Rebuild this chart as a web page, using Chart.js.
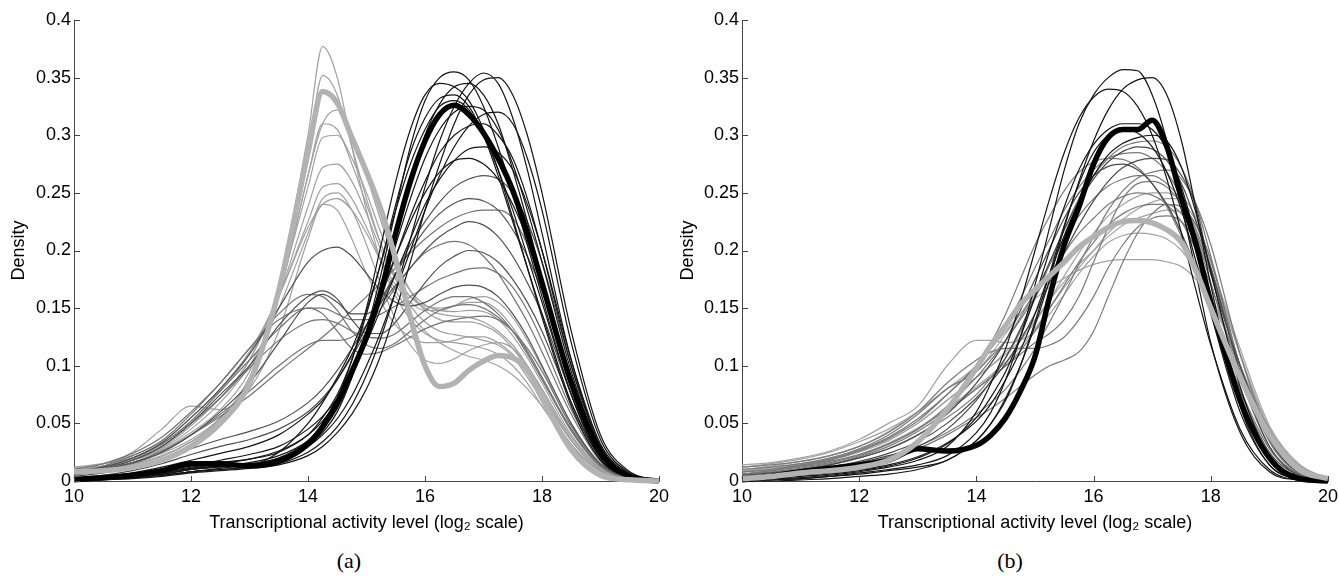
<!DOCTYPE html>
<html>
<head>
<meta charset="utf-8">
<script src="https://cdn.jsdelivr.net/npm/chart.js@4.4.1/dist/chart.umd.min.js"></script>
<style>
	body { margin: 0; background: #fff; width: 1339px; height: 576px; position: relative; overflow: hidden; }
	canvas { position: absolute; top: 0; }
	#chartA { left: 0; }
	#chartB { left: 669px; }
	.panelLabel { position: absolute; top: 550px; width: 80px; text-align: center; font: 22px "Liberation Serif", "Times New Roman", serif; line-height: 22px; color: #000; }
</style>
</head>
<body>
<canvas id="chartA" width="670" height="540"></canvas>
<canvas id="chartB" width="670" height="540"></canvas>
<div class="panelLabel" style="left:309px">(a)</div>
<div class="panelLabel" style="left:970px">(b)</div>
<script>
// x positions (log2 activity level) shared by every curve
const gridX = [10, 10.5, 11, 11.5, 12, 12.5, 13, 13.5,
	14, 14.25, 14.5, 14.75, 15, 15.25, 15.5, 15.75,
	16, 16.25, 16.5, 16.75, 17, 17.25, 17.5, 17.75,
	18, 18.5, 19, 19.5, 20];

const xTicks = [10, 12, 14, 16, 18, 20];
const yTicks = [0, 0.05, 0.1, 0.15, 0.2, 0.25, 0.3, 0.35, 0.4];

// ---- panel (a) ----
const aThickGray = [.008,.009,.012,.018,.030,.050,.085,.165, .285,.338,.328,.298,.268,.235,.192,.142, .100,.082,.085,.096,.104,.109,.107,.096, .072,.027,.005,.001,0];
const aThickBlack = [.001,.003,.005,.009,.015,.015,.013,.017, .032,.047,.068,.095,.125,.165,.215,.26, .295,.318,.326,.318,.302,.28,.252,.215, .172,.085,.025,.004,0];

const aBlack = [
	[.001,.002,.004,.007,.011,.013,.014,.018, .03,.042,.06,.09,.13,.18,.235,.29, .33,.35,.355,.348,.325,.29,.25,.205, .16,.075,.02,.003,0],
	[0,.001,.003,.005,.008,.010,.012,.015, .025,.034,.047,.066,.092,.125,.165,.21, .255,.295,.325,.345,.354,.345,.315,.27, .215,.105,.03,.005,0],
	[.001,.002,.004,.006,.010,.013,.015,.02, .032,.045,.063,.09,.125,.17,.215,.26, .3,.327,.342,.345,.335,.31,.27,.225, .175,.085,.024,.004,0],
	[0,.001,.002,.004,.007,.009,.011,.014, .022,.03,.042,.058,.08,.11,.148,.19, .235,.275,.31,.335,.348,.35,.335,.3, .25,.13,.04,.008,.001],
	[.002,.003,.005,.008,.012,.016,.019,.025, .04,.055,.075,.105,.145,.19,.24,.285, .315,.332,.335,.325,.3,.265,.225,.185, .145,.068,.02,.003,0],
	[.001,.002,.004,.006,.010,.013,.016,.022, .035,.048,.066,.092,.125,.165,.205,.245, .28,.305,.32,.325,.322,.305,.275,.235, .19,.095,.028,.005,0],
	[.001,.002,.004,.007,.011,.015,.019,.026, .04,.052,.07,.095,.125,.16,.195,.23, .26,.285,.3,.308,.31,.3,.28,.245, .2,.1,.03,.005,0],
	[.001,.002,.003,.005,.008,.01,.013,.025, .05,.068,.09,.115,.148,.19,.235,.275, .305,.325,.33,.322,.3,.27,.235,.195, .155,.075,.02,.003,0],
	[.001,.002,.004,.008,.013,.018,.023,.03, .045,.056,.072,.095,.12,.15,.18,.21, .24,.262,.278,.288,.29,.285,.27,.24, .2,.105,.032,.006,0],
	[.002,.004,.007,.012,.018,.024,.03,.04, .058,.07,.088,.11,.135,.165,.195,.225, .25,.268,.278,.28,.275,.262,.24,.21, .172,.09,.028,.005,0],
	[.001,.002,.003,.006,.01,.012,.014,.02, .035,.05,.072,.105,.15,.205,.26,.305, .335,.345,.342,.33,.305,.27,.228,.185, .142,.065,.018,.003,0],
	[.001,.002,.003,.005,.008,.011,.014,.019, .03,.04,.054,.074,.1,.13,.165,.2, .235,.265,.29,.308,.318,.32,.31,.28, .235,.12,.036,.007,.001]
];
const aDark = [
	[.003,.005,.009,.015,.023,.03,.036,.045, .06,.072,.088,.108,.13,.155,.18,.205, .225,.242,.255,.262,.265,.262,.25,.225, .19,.1,.03,.005,0],
	[.004,.007,.012,.019,.028,.036,.043,.052, .068,.08,.096,.115,.135,.158,.18,.2, .218,.232,.241,.245,.243,.235,.218,.195, .165,.088,.028,.005,0],
	[.006,.01,.016,.025,.04,.06,.085,.12, .155,.162,.155,.145,.145,.155,.17,.185, .2,.212,.22,.225,.222,.212,.195,.172, .145,.075,.022,.004,0],
	[.007,.011,.018,.03,.05,.075,.1,.135, .16,.165,.158,.14,.128,.128,.138,.155, .172,.186,.195,.2,.198,.19,.175,.155, .13,.068,.02,.004,0],
	[.008,.012,.02,.033,.055,.08,.11,.15, .19,.2,.203,.195,.18,.165,.155,.152, .155,.162,.168,.17,.168,.16,.145,.125, .1,.05,.015,.003,0]
];
const aMid = [
	[.008,.013,.022,.035,.058,.085,.115,.145, .162,.16,.148,.13,.118,.115,.12,.13, .14,.148,.152,.153,.15,.142,.13,.112, .09,.045,.013,.002,0],
	[.01,.015,.024,.038,.06,.085,.115,.14, .15,.145,.13,.115,.11,.112,.118,.125, .132,.137,.14,.142,.143,.14,.13,.115, .095,.048,.014,.002,0],
	[.006,.01,.018,.03,.05,.072,.098,.122, .138,.14,.137,.13,.125,.124,.128,.138, .148,.156,.16,.16,.155,.145,.13,.11, .088,.044,.013,.002,0],
	[.005,.009,.015,.025,.04,.058,.078,.1, .118,.122,.122,.125,.135,.15,.168,.185, .198,.205,.208,.205,.195,.18,.16,.138, .112,.058,.017,.003,0],
	[.006,.01,.016,.026,.04,.056,.074,.095, .115,.125,.136,.148,.16,.172,.185,.198, .21,.22,.228,.233,.235,.235,.228,.205, .172,.09,.028,.005,0],
	[.008,.012,.02,.032,.052,.078,.105,.132, .15,.15,.145,.14,.14,.145,.152,.16, .168,.175,.18,.184,.185,.18,.168,.148, .122,.062,.018,.003,0]
];
const aLight = [
	[.01,.012,.016,.024,.036,.055,.09,.17, .3,.377,.35,.29,.235,.19,.16,.14, .128,.122,.12,.118,.115,.11,.1,.085, .065,.03,.008,.001,0],
	[.009,.011,.015,.022,.034,.052,.085,.16, .285,.352,.335,.29,.245,.205,.175,.152, .138,.13,.127,.125,.122,.118,.108,.09, .07,.032,.009,.001,0],
	[.011,.013,.018,.027,.042,.062,.095,.16, .265,.31,.322,.3,.265,.225,.19,.165, .148,.14,.138,.138,.135,.128,.115,.097, .075,.035,.01,.001,0],
	[.008,.01,.014,.021,.034,.054,.09,.16, .265,.31,.305,.275,.24,.205,.178,.16, .15,.145,.143,.142,.138,.13,.118,.1, .078,.036,.01,.001,0],
	[.012,.015,.02,.03,.05,.072,.105,.165, .255,.298,.3,.28,.25,.215,.185,.165, .153,.148,.147,.148,.147,.14,.126,.107, .085,.04,.011,.002,0],
	[.01,.013,.019,.029,.048,.072,.105,.16, .238,.272,.275,.26,.232,.2,.175,.16, .152,.15,.152,.155,.155,.148,.133,.113, .09,.043,.012,.002,0],
	[.009,.013,.02,.032,.052,.078,.11,.16, .225,.255,.258,.245,.22,.192,.17,.155, .148,.148,.152,.158,.16,.155,.142,.122, .098,.047,.014,.002,0],
	[.011,.015,.022,.034,.055,.08,.112,.16, .22,.24,.245,.235,.215,.19,.165,.145, .13,.12,.113,.108,.105,.1,.092,.08, .065,.03,.009,.001,0],
	[.009,.012,.018,.028,.045,.068,.1,.15, .215,.245,.25,.235,.205,.17,.14,.118, .105,.102,.106,.113,.118,.12,.115,.1, .08,.038,.011,.002,0],
	[.01,.015,.025,.045,.065,.062,.08,.13, .21,.24,.235,.21,.18,.155,.135,.125, .12,.12,.122,.125,.125,.12,.11,.095, .075,.035,.01,.002,0]
];

// ---- panel (b) ----
const bThickGray = [.002,.004,.007,.009,.012,.018,.034,.062, .098,.118,.135,.153,.166,.178,.19,.203, .212,.22,.225,.226,.224,.218,.207,.182, .15,.09,.04,.01,.002];
const bThickBlack = [.001,.004,.008,.011,.014,.018,.028,.026, .031,.04,.055,.078,.108,.16,.205,.238, .275,.298,.305,.305,.313,.29,.245,.205, .155,.07,.02,.002,0];

const bBlack = [
	[0,.001,.002,.004,.007,.01,.014,.022, .042,.06,.088,.125,.17,.22,.27,.31, .335,.35,.357,.356,.335,.295,.24,.18, .12,.042,.008,.001,0],
	[0,.001,.002,.004,.006,.009,.012,.018, .035,.05,.072,.1,.135,.175,.22,.26, .295,.322,.34,.348,.35,.335,.295,.235, .17,.065,.014,.002,0],
	[.001,.002,.003,.005,.008,.012,.018,.03, .06,.085,.115,.155,.2,.245,.285,.315, .333,.34,.338,.325,.3,.262,.215,.165, .118,.045,.01,.001,0],
	[.001,.002,.004,.006,.009,.013,.02,.032, .055,.073,.095,.125,.16,.2,.238,.27, .292,.305,.31,.31,.305,.288,.255,.21, .16,.07,.018,.003,0],
	[.001,.003,.005,.007,.01,.014,.021,.033, .052,.067,.088,.113,.145,.18,.213,.242, .265,.283,.293,.298,.3,.295,.272,.232, .182,.082,.022,.004,0],
	[0,0,.001,.002,.004,.006,.01,.018, .035,.05,.07,.1,.138,.18,.222,.258, .285,.3,.305,.302,.29,.268,.235,.19, .145,.06,.014,.002,0]
];
const bDark = [
	[.004,.006,.009,.012,.016,.022,.03,.045, .07,.087,.107,.132,.16,.19,.218,.243, .262,.277,.286,.29,.288,.278,.258,.225, .185,.095,.03,.005,.001],
	[.003,.005,.008,.012,.017,.024,.034,.05, .072,.086,.102,.122,.145,.172,.198,.222, .243,.26,.272,.278,.28,.279,.265,.238, .18,.1,.036,.007,.001],
	[.005,.007,.01,.014,.02,.028,.04,.058, .085,.102,.122,.148,.175,.202,.228,.25, .265,.273,.275,.27,.258,.24,.215,.185, .15,.078,.025,.005,.001]
];
const bMid = [
	[.008,.01,.013,.017,.023,.032,.045,.065, .09,.105,.122,.142,.165,.188,.21,.23, .245,.256,.262,.265,.265,.258,.243,.218, .185,.1,.038,.008,.001],
	[.01,.012,.015,.02,.028,.04,.058,.08, .095,.108,.122,.14,.16,.18,.198,.215, .228,.24,.247,.25,.248,.24,.225,.2, .17,.095,.036,.008,.001],
	[.006,.009,.012,.016,.022,.032,.045,.062, .08,.09,.1,.113,.13,.15,.17,.19, .207,.222,.232,.238,.24,.24,.232,.212, .182,.1,.042,.01,.001],
	[.012,.014,.017,.022,.03,.042,.06,.085, .105,.112,.115,.115,.115,.118,.125,.14, .16,.185,.205,.22,.228,.23,.225,.208, .18,.1,.042,.01,.001],
	[.006,.009,.013,.018,.026,.037,.052,.075, .1,.12,.145,.175,.205,.23,.252,.268, .277,.28,.279,.272,.258,.238,.212,.182, .148,.08,.028,.006,.001],
	[.004,.006,.008,.011,.015,.02,.028,.04, .055,.063,.072,.082,.092,.1,.105,.112, .13,.16,.19,.215,.232,.24,.238,.222, .192,.1,.044,.01,.001],
	[.005,.007,.01,.014,.02,.028,.04,.055, .075,.09,.107,.13,.158,.188,.218,.245, .265,.28,.29,.294,.295,.29,.272,.24, .195,.1,.034,.007,.001],
	[.008,.01,.014,.019,.027,.038,.054,.075, .1,.115,.135,.158,.185,.21,.235,.255, .27,.28,.284,.285,.28,.268,.245,.212, .172,.09,.03,.006,.001],
	[.003,.005,.008,.011,.015,.021,.03,.042, .058,.068,.08,.096,.115,.138,.162,.188, .212,.235,.252,.263,.268,.27,.262,.24, .205,.11,.04,.009,.001],
	[.006,.008,.011,.015,.021,.03,.043,.06, .08,.09,.1,.11,.12,.128,.14,.16, .19,.22,.245,.258,.26,.255,.24,.215, .18,.1,.036,.008,.001]
];
const bLight = [
	[.01,.012,.015,.019,.026,.036,.05,.07, .09,.1,.112,.125,.14,.157,.173,.188, .2,.212,.222,.228,.232,.235,.233,.222, .185,.11,.045,.014,.002],
	[.012,.015,.019,.025,.034,.045,.06,.08, .1,.115,.13,.145,.158,.168,.176,.183, .188,.191,.192,.192,.192,.19,.186,.175, .158,.1,.046,.013,.002],
	[.014,.016,.02,.026,.036,.05,.065,.1, .122,.122,.12,.122,.13,.145,.162,.18, .195,.207,.213,.215,.214,.21,.2,.182, .158,.1,.042,.011,.002],
	[.008,.01,.013,.017,.023,.033,.046,.063, .082,.092,.103,.116,.132,.15,.168,.185, .2,.215,.227,.236,.242,.245,.245,.228, .19,.115,.048,.015,.002],
	[.01,.013,.017,.022,.03,.043,.06,.08, .095,.11,.128,.145,.162,.177,.19,.202, .212,.22,.224,.225,.224,.218,.207,.188, .162,.1,.042,.011,.002],
	[.009,.011,.014,.018,.025,.035,.05,.07, .09,.1,.11,.122,.138,.157,.178,.198, .215,.23,.24,.247,.25,.25,.243,.225, .19,.11,.045,.012,.002]
];

const fontFamily = '"Liberation Sans", Arial, Helvetica, sans-serif';
const axisColor = '#444';

let makeSet = (values, color, width) => ({
	data: values.map((v, i) => ({ x: gridX[i], y: v })),
	borderColor: color,
	borderWidth: width,
	pointRadius: 0,
	cubicInterpolationMode: 'monotone',
	clip: false
});

// MATLAB style ticks pointing into the plot
let inwardTicks = {
	id: 'inwardTicks',
	afterDatasetsDraw(chart) {
		let { ctx, chartArea, scales } = chart;
		ctx.save();
		ctx.strokeStyle = axisColor;
		ctx.lineWidth = 1;
		xTicks.forEach(v => {
			let px = Math.round(scales.x.getPixelForValue(v)) + 0.5;
			ctx.beginPath();
			ctx.moveTo(px, chartArea.bottom);
			ctx.lineTo(px, chartArea.bottom - 5);
			ctx.stroke();
		});
		yTicks.forEach(v => {
			let py = Math.round(scales.y.getPixelForValue(v)) + 0.5;
			ctx.beginPath();
			ctx.moveTo(chartArea.left, py);
			ctx.lineTo(chartArea.left + 6, py);
			ctx.stroke();
		});
		ctx.restore();
	}
};

let buildChart = (id, groups, yWidth) => {
	let datasets = [];
	groups.forEach(g => {
		g.lines.forEach(v => datasets.push(makeSet(v, g.color, g.width)));
	});

	let config = {
		type: 'line',
		data: { datasets: datasets },
		options: {
			responsive: false,
			animation: false,
			events: [],
			layout: { padding: { top: 20, right: 11, left: 0, bottom: 0 } },
			plugins: { legend: { display: false }, tooltip: { enabled: false } },
			scales: {
				x: {
					type: 'linear',
					min: 10,
					max: 20,
					afterBuildTicks: s => { s.ticks = xTicks.map(v => ({ value: v })); },
					ticks: { padding: 5, color: '#000', maxRotation: 0, font: { family: fontFamily, size: 18 } },
					grid: { display: false, drawTicks: false },
					border: { display: true, color: axisColor, width: 1 },
					title: {
						display: true,
						text: 'Transcriptional activity level (log\u2082 scale)',
						color: '#000',
						font: { family: fontFamily, size: 18 },
						padding: { top: 0, bottom: 6 }
					},
					afterFit: s => { s.height = 59; s.paddingLeft = 0; s.paddingRight = 0; }
				},
				y: {
					min: 0,
					max: 0.4,
					afterBuildTicks: s => { s.ticks = yTicks.map(v => ({ value: v })); },
					ticks: {
						padding: 3,
						color: '#000',
						font: { family: fontFamily, size: 18 },
						callback: v => String(Number(v.toFixed(2)))
					},
					grid: { display: false, drawTicks: false },
					border: { display: true, color: axisColor, width: 1 },
					title: {
						display: true,
						text: 'Density',
						color: '#000',
						font: { family: fontFamily, size: 18 },
						padding: { top: 8, bottom: 0 }
					},
					afterFit: s => { s.width = yWidth; }
				}
			}
		},
		plugins: [inwardTicks]
	};

	return new Chart(document.getElementById(id), config);
};

buildChart('chartA', [
	{ lines: [aThickGray], color: '#b2b2b2', width: 5.5 },
	{ lines: [aThickBlack], color: '#000', width: 5.5 },
	{ lines: aBlack, color: '#151515', width: 1.2 },
	{ lines: aDark, color: '#505050', width: 1.2 },
	{ lines: aMid, color: '#737373', width: 1.2 },
	{ lines: aLight, color: '#a0a0a0', width: 1.2 }
], 74);

buildChart('chartB', [
	{ lines: [bThickGray], color: '#b2b2b2', width: 5.5 },
	{ lines: [bThickBlack], color: '#000', width: 5.5 },
	{ lines: bBlack, color: '#151515', width: 1.2 },
	{ lines: bDark, color: '#4a4a4a', width: 1.2 },
	{ lines: bMid, color: '#7a7a7a', width: 1.2 },
	{ lines: bLight, color: '#a3a3a3', width: 1.2 }
], 73);
</script>
</body>
</html>
